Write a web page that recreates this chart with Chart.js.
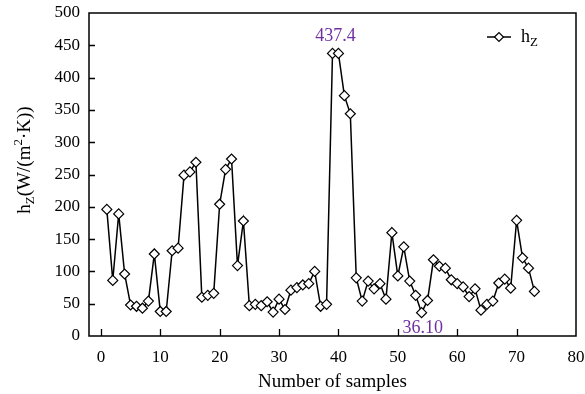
<!DOCTYPE html>
<html>
<head>
<meta charset="utf-8">
<script src="https://cdn.jsdelivr.net/npm/chart.js"></script>
<style>
  body { margin: 0; background: #fff; }
  canvas { display: block; }
</style>
</head>
<body>
<canvas id="chart" width="585" height="394"></canvas>
<script>
// sample number on the x axis
const sampleNo = [1, 2, 3, 4, 5, 6, 7, 8, 9, 10, 11, 12, 13, 14, 15, 16, 17, 18, 19, 20,
  21, 22, 23, 24, 25, 26, 27, 28, 29, 30, 31, 32, 33, 34, 35, 36, 37, 38, 39, 40,
  41, 42, 43, 44, 45, 46, 47, 48, 49, 50, 51, 52, 53, 54, 55, 56, 57, 58, 59, 60,
  61, 62, 63, 64, 65, 66, 67, 68, 69, 70, 71, 72, 73];
// hZ values, W/(m2.K)
const hzValues = [196, 86, 189, 96, 48, 46, 43, 54, 127, 38, 38, 132, 136, 249, 254, 269, 60, 63, 66, 204,
  258, 274, 109, 178, 47, 49, 47, 53, 37, 57, 41, 71, 75, 79, 81, 100, 46, 49, 437.4, 437.4,
  372, 344, 90, 54, 85, 73, 81, 57, 160, 93, 138, 85, 63, 36.1, 55, 118, 108, 105, 87, 81,
  76, 61, 73, 40, 49, 54, 82, 88, 74, 179, 121, 105, 69];
const xTicks = [0, 10, 20, 30, 40, 50, 60, 70, 80];
const yTicks = [0, 50, 100, 150, 200, 250, 300, 350, 400, 450, 500];
// max / min labels
const noteX = [39.5, 54.2];
const noteY = [437.4, 0];
const noteText = ['437.4', '36.10'];

const serif = "'Liberation Serif', 'Times New Roman', serif";
const purple = '#7030A0';
Chart.defaults.font.family = serif;
Chart.defaults.color = '#000';

function drawParts(ctx, parts, x, y) {
  // parts: [text, size, dy]
  var cx = x;
  parts.forEach(p => {
    ctx.font = p[1] + 'px ' + serif;
    ctx.fillText(p[0], cx, y + p[2]);
    cx += ctx.measureText(p[0]).width;
  });
  return cx - x;
}
function partsWidth(ctx, parts) {
  var w = 0;
  parts.forEach(p => {
    ctx.font = p[1] + 'px ' + serif;
    w += ctx.measureText(p[0]).width;
  });
  return w;
}

const decor = {
  id: 'decor',
  afterDraw(chart) {
    const ctx = chart.ctx;
    const a = chart.chartArea;
    const xs = chart.scales.x, ys = chart.scales.y;
    ctx.save();
    ctx.strokeStyle = '#000';
    ctx.lineWidth = 1.5;
    ctx.strokeRect(a.left, a.top, a.right - a.left, a.bottom - a.top);

    // inward ticks
    ctx.lineWidth = 1.3;
    ctx.beginPath();
    xTicks.forEach(v => {
      const px = Math.round(xs.getPixelForValue(v)) + 0.5;
      if (px > a.left + 2 && px < a.right - 2) {
        ctx.moveTo(px, a.bottom);
        ctx.lineTo(px, a.bottom - 7);
      }
    });
    yTicks.forEach(v => {
      const py = Math.round(ys.getPixelForValue(v)) + 0.5;
      if (py > a.top + 2 && py < a.bottom - 2) {
        ctx.moveTo(a.left, py);
        ctx.lineTo(a.left + 6, py);
      }
    });
    ctx.stroke();

    // axis titles
    ctx.fillStyle = '#000';
    ctx.textBaseline = 'alphabetic';
    ctx.textAlign = 'left';
    ctx.font = '19px ' + serif;
    const xt = 'Number of samples';
    const xw = ctx.measureText(xt).width;
    ctx.fillText(xt, (a.left + a.right) / 2 - xw / 2, 387);

    const yParts = [['h', 19, 0], ['Z', 13, 4], ['(W/(m', 19, 0], ['2', 13, -8], ['·K))', 19, 0]];
    ctx.save();
    ctx.translate(30, 160);
    ctx.rotate(-Math.PI / 2);
    drawParts(ctx, yParts, -partsWidth(ctx, yParts) / 2, 0);
    ctx.restore();

    // legend
    ctx.lineWidth = 1.5;
    ctx.beginPath();
    ctx.moveTo(487, 37);
    ctx.lineTo(511, 37);
    ctx.stroke();
    ctx.fillStyle = '#fff';
    ctx.lineWidth = 1.2;
    ctx.beginPath();
    ctx.moveTo(494.5, 37); ctx.lineTo(499, 32.5); ctx.lineTo(503.5, 37); ctx.lineTo(499, 41.5);
    ctx.closePath();
    ctx.fill();
    ctx.stroke();
    ctx.fillStyle = '#000';
    drawParts(ctx, [['h', 18, 0], ['Z', 13, 4]], 521, 42);

    // value notes
    ctx.fillStyle = purple;
    ctx.font = '18px ' + serif;
    ctx.textAlign = 'center';
    noteText.forEach((t, i) => {
      const px = xs.getPixelForValue(noteX[i]);
      var py = ys.getPixelForValue(noteY[i]);
      py = noteY[i] > 0 ? py - 12 : py - 3;
      ctx.fillText(t, px, py);
    });
    ctx.restore();
  }
};

const ctx = document.getElementById('chart').getContext('2d');
const myChart = new Chart(ctx, {
  type: 'line',
  data: {
    datasets: [{
      label: 'hZ',
      data: sampleNo.map((n, i) => ({x: n, y: hzValues[i]})),
      borderColor: '#000',
      borderWidth: 1.5,
      backgroundColor: '#fff',
      pointStyle: 'rectRot',
      pointRadius: 5,
      pointBorderWidth: 1.2,
      pointBackgroundColor: '#fff',
      pointBorderColor: '#000',
      tension: 0
    }]
  },
  options: {
    responsive: false,
    animation: false,
    layout: {padding: {top: 13, right: 9, left: 0, bottom: 0}},
    plugins: {legend: {display: false}, tooltip: {enabled: false}},
    scales: {
      x: {
        type: 'linear',
        min: -2,
        max: 80,
        afterBuildTicks: s => { s.ticks = xTicks.map(v => ({value: v})); },
        afterFit: s => { s.height = 58; s.paddingLeft = 0; s.paddingRight = 0; },
        grid: {display: false, drawTicks: false},
        border: {display: false},
        ticks: {font: {size: 17}, color: '#000', padding: 11, maxRotation: 0}
      },
      y: {
        min: 0,
        max: 500,
        afterBuildTicks: s => { s.ticks = yTicks.map(v => ({value: v})); },
        afterFit: s => { s.width = 89; s.paddingTop = 0; s.paddingBottom = 0; },
        grid: {display: false, drawTicks: false},
        border: {display: false},
        ticks: {font: {size: 17}, color: '#000', padding: 9}
      }
    }
  },
  plugins: [decor]
});
</script>
</body>
</html>
